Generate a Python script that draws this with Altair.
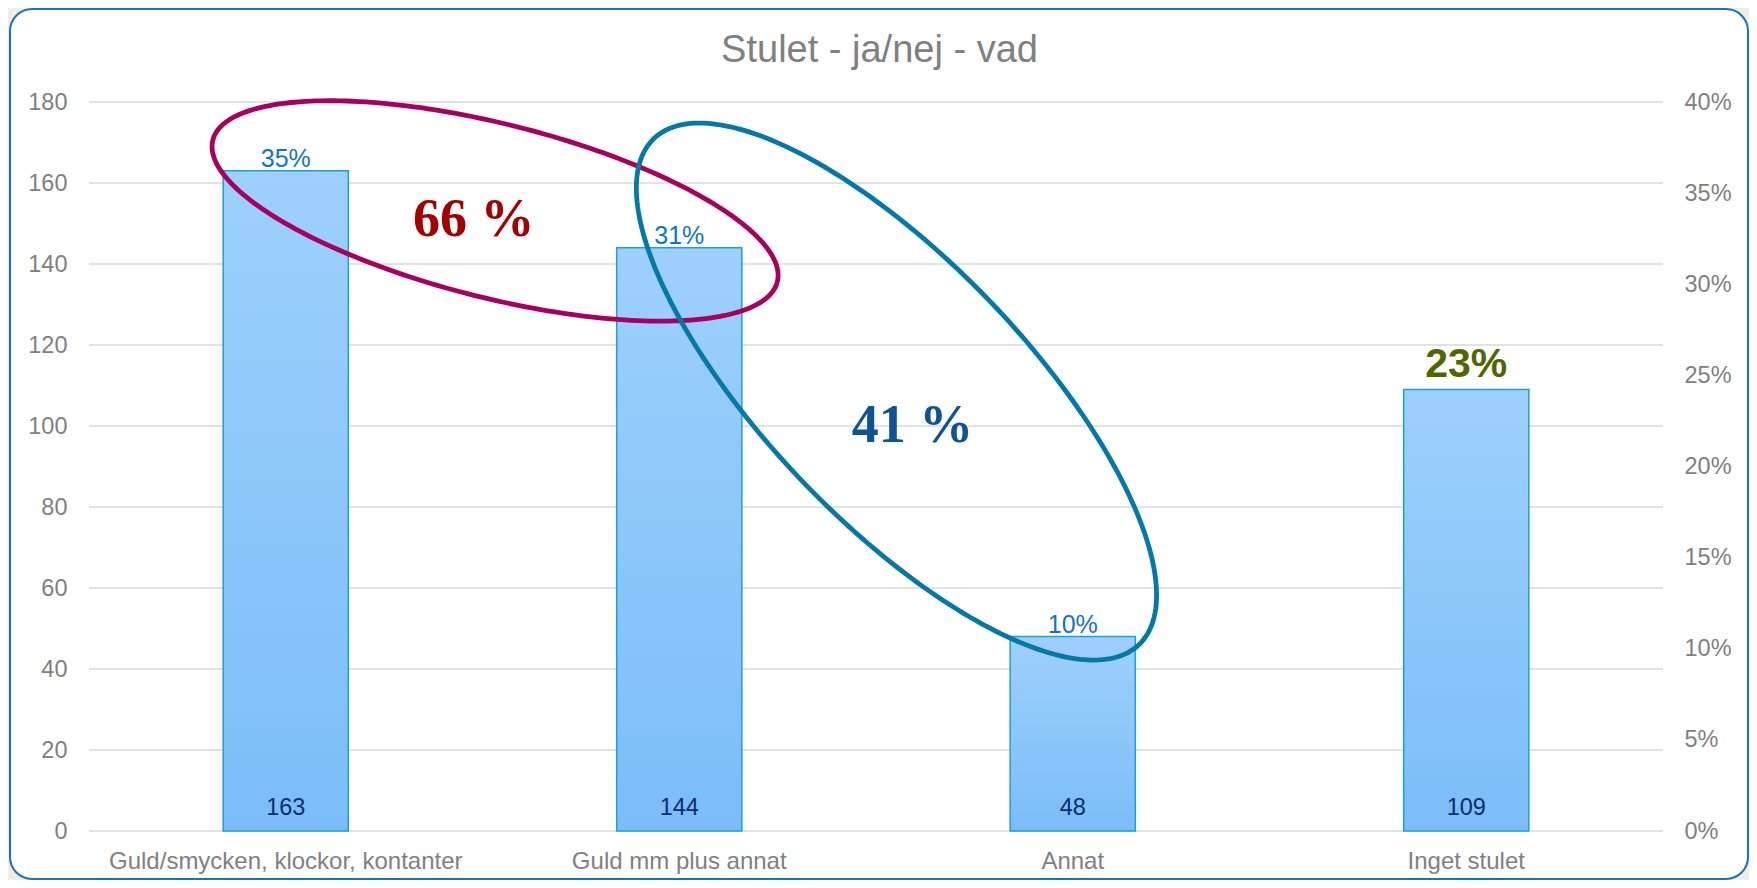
import altair as alt
import numpy as np
import pandas as pd

# ---------------- data ----------------
categories = ["Guld/smycken, klockor, kontanter", "Guld mm plus annat", "Annat", "Inget stulet"]
counts = [163, 144, 48, 109]
pct_labels = ["35%", "31%", "10%", ""]
count_ticks = [0, 20, 40, 60, 80, 100, 120, 140, 160, 180]
pct_ticks = [0.0, 0.05, 0.10, 0.15, 0.20, 0.25, 0.30, 0.35, 0.40]

title_text = "Stulet - ja/nej - vad"
big_label = "23%"            # big label above "Inget stulet"
note_texts = ["66 %", "41 %"]
note_x = [0.978, 2.093]      # in category units (0..4)
note_y = [146.9, 96.0]       # in count units
note_colors = ["#A30000", "#0E5494"]

# ellipse annotations: centre in data units, semi-axes in px, tilt in degrees
ell_names = ["red", "blue"]
ell_cx = [1.032, 2.052]
ell_cy = [153.1, 108.5]
ell_a = [291.0, 350.5]
ell_b = [87.0, 130.0]
ell_deg = [14.1, 46.2]
ell_colors = ["#A8005E", "#0578AA"]

# ---------------- layout ----------------
PLOT_W, PLOT_H = 1574, 729
PAD = {"left": 81, "top": 94, "right": 86, "bottom": 49}
GRAY = "#808080"
FONT = "Liberation Sans"

df = pd.DataFrame({"cat": categories, "count": counts, "pct": pct_labels})

xband = alt.Scale(domain=categories, paddingInner=0.682, paddingOuter=0.341)
ycount = alt.Scale(domain=[0, 180], nice=False, zero=True)

# ellipse points
rows = []
for n, cx, cy, a, b, d in zip(ell_names, ell_cx, ell_cy, ell_a, ell_b, ell_deg):
    th = np.deg2rad(d)
    t = np.linspace(0, 2 * np.pi, 241)
    dx = a * np.cos(t) * np.cos(th) - b * np.sin(t) * np.sin(th)
    dy = a * np.cos(t) * np.sin(th) + b * np.sin(t) * np.cos(th)
    xs = cx + dx / (PLOT_W / 4)
    ys = cy - dy / (PLOT_H / 180)
    for i, (xv, yv) in enumerate(zip(xs, ys)):
        rows.append({"name": n, "i": i, "x": xv, "y": yv})
ell_df = pd.DataFrame(rows)

# ---------------- layers ----------------
one = pd.DataFrame({"k": [0]})
card = alt.Chart(one).mark_rect(
    fill="white", stroke="#1275C4", strokeWidth=2, cornerRadius=22
).encode(
    x=alt.value(-79), x2=alt.value(1659), y=alt.value(-93), y2=alt.value(777)
)

title = alt.Chart(one).mark_text(
    text=title_text, font=FONT, fontSize=38, color=GRAY, baseline="alphabetic", align="center"
).encode(x=alt.value(PLOT_W / 2 + 3.5), y=alt.value(-40))

gradient = alt.Gradient(
    gradient="linear",
    stops=[alt.GradientStop(color="#9ED0FC", offset=0),
           alt.GradientStop(color="#7BBDF8", offset=1)],
    x1=0, x2=0, y1=0, y2=1,
)

xaxis = alt.Axis(title=None, labelAngle=0, labelPadding=18, domain=False, ticks=False,
                 grid=False, labelLimit=600, labelFontSize=24, labelColor=GRAY, labelFont=FONT,
                 zindex=1)
yaxis = alt.Axis(title=None, values=count_ticks, grid=False,
                 domain=False, ticks=False, labelPadding=22, labelFontSize=23.5,
                 labelColor=GRAY, labelFont=FONT, zindex=1)

grid_df = pd.DataFrame({"g": count_ticks})
grid = alt.Chart(grid_df).mark_rule(color="#D9D9D9", strokeWidth=1.5).encode(
    y=alt.Y("g:Q", scale=ycount, axis=yaxis)
)

bars = alt.Chart(df).mark_bar(fill=gradient, stroke="#1A9FE0", strokeWidth=1.5).encode(
    x=alt.X("cat:N", sort=categories, scale=xband, axis=xaxis),
    y=alt.Y("count:Q", scale=ycount),
)

pct_text = alt.Chart(df).mark_text(
    baseline="alphabetic", dy=-4, fontSize=25, color="#0F75C9", font=FONT
).encode(
    x=alt.X("cat:N", sort=categories, scale=xband),
    y=alt.Y("count:Q", scale=ycount),
    text="pct:N",
)

count_text = alt.Chart(df).mark_text(
    baseline="alphabetic", dy=-16, fontSize=23.5, color="#0E2C6B", font=FONT
).encode(
    x=alt.X("cat:N", sort=categories, scale=xband),
    y=alt.YDatum(0, scale=ycount),
    text="count:Q",
)

big_df = pd.DataFrame({"cat": [categories[3]], "count": [counts[3]], "t": [big_label]})
big_text = alt.Chart(big_df).mark_text(
    baseline="alphabetic", dy=-13, fontSize=41, fontWeight="bold", color="#546400", font=FONT
).encode(
    x=alt.X("cat:N", sort=categories, scale=xband),
    y=alt.Y("count:Q", scale=ycount),
    text="t:N",
)

main = alt.layer(grid, bars, pct_text, count_text, big_text)

xq = alt.Scale(domain=[0, 4], nice=False, zero=False)

ellipses = alt.Chart(ell_df).mark_line(strokeWidth=4.8, strokeCap="round").encode(
    x=alt.X("x:Q", scale=xq, axis=None),
    y=alt.Y("y:Q", scale=ycount, axis=None),
    color=alt.Color("name:N", scale=alt.Scale(domain=ell_names, range=ell_colors), legend=None),
    order="i:Q",
)

note_df = pd.DataFrame({"t": note_texts, "x": note_x, "y": note_y, "c": note_colors})
notes = alt.Chart(note_df).mark_text(
    baseline="alphabetic", fontSize=54, fontWeight="bold", font="Liberation Serif"
).encode(
    x=alt.X("x:Q", scale=xq, axis=None),
    y=alt.Y("y:Q", scale=ycount, axis=None),
    text="t:N",
    color=alt.Color("c:N", scale=None),
)

annot = alt.layer(ellipses, notes)

right_df = pd.DataFrame({"v": pct_ticks})
right_axis = alt.Chart(right_df).mark_point(opacity=0).encode(
    y=alt.Y("v:Q", scale=alt.Scale(domain=[0, 0.4], nice=False),
            axis=alt.Axis(orient="right", title=None, values=pct_ticks, format=".0%",
                          grid=False, domain=False, ticks=False, labelPadding=21,
                          labelFontSize=23.5, labelColor=GRAY, labelFont=FONT, zindex=1))
)

chart = alt.layer(card, title, main, annot, right_axis).resolve_scale(
    x="independent", y="independent"
).properties(
    width=PLOT_W,
    height=PLOT_H,
    autosize=alt.AutoSizeParams(type="none"),
    padding=PAD,
    background="#F0ECE6",
).configure_view(stroke=None)

chart.save("out.html", embed_options={"renderer": "svg", "actions": False})
